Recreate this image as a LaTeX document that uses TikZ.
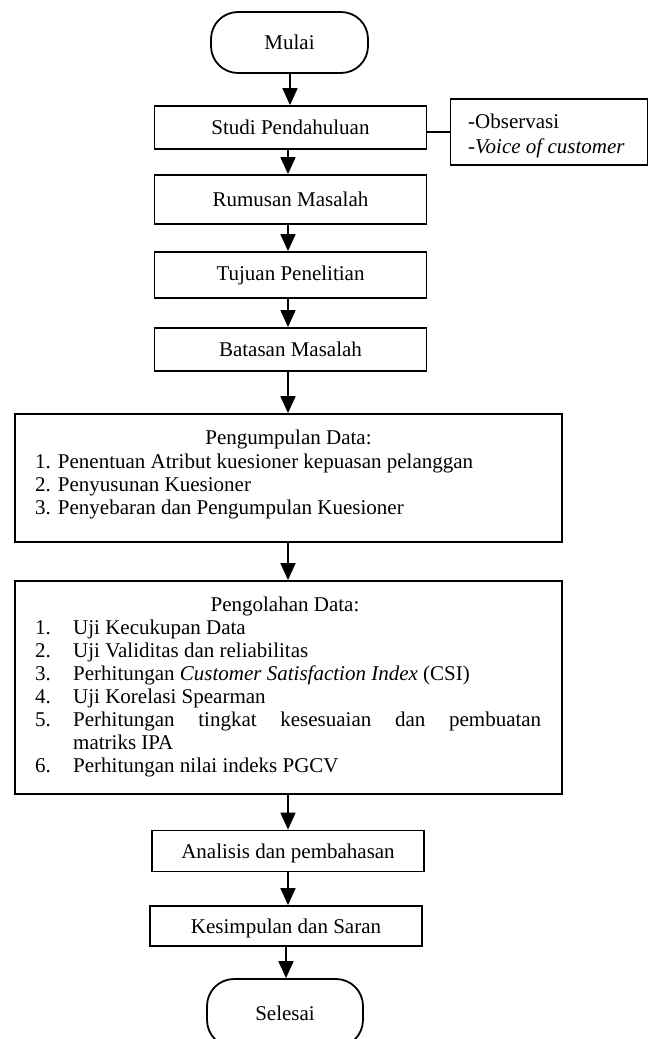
\documentclass[tikz,border=0pt]{standalone}
\usepackage{fontspec}
\setmainfont{Liberation Serif}
\usetikzlibrary{arrows.meta}
\newcommand\fsz{\fontsize{21}{23}\selectfont}
\begin{document}
\begin{tikzpicture}[x=1pt,y=-1pt,
  box/.style={draw, line width=1.8pt, inner sep=0pt, font=\fsz},
  term/.style={box, rounded corners=27pt},
  arr/.style={line width=1.8pt, -{Triangle[length=17pt,width=15pt]}},
  txt/.style={inner sep=0pt, font=\fsz},
  lnk/.style={line width=1.8pt}]
\useasboundingbox (0,0) rectangle (649,1039);
\clip (0,0) rectangle (649,1039);
% main column
\node[term, minimum width=157pt, minimum height=61pt] (mulai) at (289.5,42.5) {Mulai};
\node[box, minimum width=272pt, minimum height=43pt] (studi) at (290.5,127.5) {Studi Pendahuluan};
\node[box, minimum width=197pt, minimum height=66pt] (obs) at (549,132) {};
\node[txt, anchor=base west] (obs1) at (468,128) {-Observasi};
\node[txt, anchor=base west] (obs2) at (468,153) {-\textit{Voice of customer}};
\node[box, minimum width=272pt, minimum height=49pt] (rumusan) at (290.5,199.5) {Rumusan Masalah};
\node[box, minimum width=272pt, minimum height=46pt] (tujuan) at (290.5,275) {Tujuan Penelitian};
\node[box, minimum width=272pt, minimum height=43pt] (batasan) at (290.5,349.5) {Batasan Masalah};
% Pengumpulan
\node[box, minimum width=547pt, minimum height=128pt] (kumpul) at (288.5,478) {};
\node[txt, anchor=base] (k0) at (288.5,444) {Pengumpulan Data:};
\node[txt, anchor=base west] (k1) at (35,468) {1. Penentuan Atribut kuesioner kepuasan pelanggan};
\node[txt, anchor=base west] (k2) at (35,491) {2. Penyusunan Kuesioner};
\node[txt, anchor=base west] (k3) at (35,514) {3. Penyebaran dan Pengumpulan Kuesioner};
% Pengolahan
\node[box, minimum width=547pt, minimum height=213pt] (olah) at (288.5,687.5) {};
\node[txt, anchor=base] (o0) at (285,611) {Pengolahan Data:};
\node[txt, anchor=base west] (n1) at (35,634) {1.};
\node[txt, anchor=base west] (o1) at (73,634) {Uji Kecukupan Data};
\node[txt, anchor=base west] (n2) at (35,657) {2.};
\node[txt, anchor=base west] (o2) at (73,657) {Uji Validitas dan reliabilitas};
\node[txt, anchor=base west] (n3) at (35,680) {3.};
\node[txt, anchor=base west] (o3) at (73,680) {Perhitungan \textit{Customer Satisfaction Index} (CSI)};
\node[txt, anchor=base west] (n4) at (35,703) {4.};
\node[txt, anchor=base west] (o4) at (73,703) {Uji Korelasi Spearman};
\node[txt, anchor=base west] (n5) at (35,726) {5.};
\node[txt, anchor=base west] (o5) at (73,726) {\makebox[468pt][s]{Perhitungan tingkat kesesuaian dan pembuatan}};
\node[txt, anchor=base west] (o5b) at (73,749) {matriks IPA};
\node[txt, anchor=base west] (n6) at (35,772) {6.};
\node[txt, anchor=base west] (o6) at (73,772) {Perhitungan nilai indeks PGCV};
% bottom
\node[box, minimum width=272pt, minimum height=41pt, text depth=0pt] (analisis) at (288,851) {Analisis dan pembahasan};
\node[box, minimum width=272pt, minimum height=40pt, text depth=0pt] (kes) at (286,926) {Kesimpulan dan Saran};
\node[term, minimum width=156pt, minimum height=68pt] (sel) at (285,1013) {Selesai};
% connectors
\coordinate (ax1) at (290,0);
\coordinate (ax) at (288,0);
\coordinate (ax2) at (286,0);
\draw[arr] (mulai.south -| ax1) -- (studi.north -| ax1);
\draw[arr] (studi.south -| ax) -- (rumusan.north -| ax);
\draw[arr] (rumusan.south -| ax) -- (tujuan.north -| ax);
\draw[arr] (tujuan.south -| ax) -- (batasan.north -| ax);
\draw[arr] (batasan.south -| ax) -- (kumpul.north -| ax);
\draw[arr] (kumpul.south -| ax) -- (olah.north -| ax);
\draw[arr] (olah.south -| ax) -- (analisis.north -| ax);
\draw[arr] (analisis.south -| ax) -- (kes.north -| ax);
\draw[arr] (kes.south -| ax2) -- (sel.north -| ax2);
\draw[lnk] (studi.east |- obs.west) -- (obs.west);
\end{tikzpicture}
\end{document}
